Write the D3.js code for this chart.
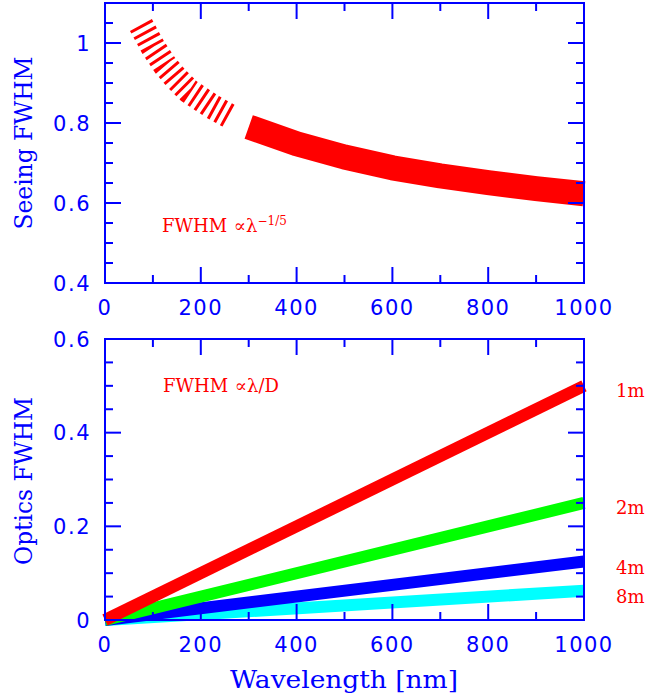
<!DOCTYPE html>
<html>
<head>
<meta charset="utf-8">
<script src="https://cdn.jsdelivr.net/npm/d3@7"></script>
<style>
  body { margin: 0; background: #fff; }
  svg { display: block; }
</style>
</head>
<body>
<div id="chart"></div>
<script>
// seeing FWHM (wavelength nm, FWHM)
var seeingHatched = [[75, 1.045], [100, 0.99], [125, 0.945], [150, 0.91], [175, 0.88], [200, 0.86], [225, 0.84], [263, 0.815]];
var seeingSolid = [[300, 0.79], [400, 0.748], [500, 0.715], [600, 0.688], [700, 0.668], [800, 0.651], [900, 0.636], [1000, 0.623]];

// optics FWHM lines, drawn in this order (last on top)
var optics = [
  {name: "8m", color: "#00ffff", values: [[0, 0], [1000, 0.0625]]},
  {name: "4m", color: "#0000ff", values: [[0, 0], [1000, 0.125]]},
  {name: "2m", color: "#00ff00", values: [[0, 0], [1000, 0.25]]},
  {name: "1m", color: "#ff0000", values: [[0, 0], [1000, 0.5]]}
];
var labelPos = {"1m": 0.49, "2m": 0.24, "4m": 0.11, "8m": 0.05};

var xTicks = [0, 200, 400, 600, 800, 1000];
var topYTicks = [0.4, 0.6, 0.8, 1.0];
var botYTicks = [0, 0.2, 0.4, 0.6];

var W = 649, H = 696;
var blue = "#0000ff", red = "#ff0000";

var svg = d3.select("#chart").append("svg")
  .attr("width", W).attr("height", H);

var x = d3.scaleLinear().domain([0, 1000]).range([105, 584]);
var yTop = d3.scaleLinear().domain([0.4, 1.1]).range([283, 3]);
var yBot = d3.scaleLinear().domain([0, 0.6]).range([620, 339]);

function frame(y, yMajor, yMinorStep, fmt) {
  var g = svg.append("g");
  var y0 = y.range()[0], y1 = y.range()[1];
  var x0 = x.range()[0], x1 = x.range()[1];
  var d = y.domain();

  // minor + major x ticks, top and bottom
  d3.range(0, 1001, 100).forEach(function(v) {
    var len = (v % 200 === 0) ? 16 : 8;
    g.append("line").attr("x1", x(v)).attr("x2", x(v)).attr("y1", y0).attr("y2", y0 - len);
    g.append("line").attr("x1", x(v)).attr("x2", x(v)).attr("y1", y1).attr("y2", y1 + len);
  });
  // y ticks left and right
  var n = Math.round((d[1] - d[0]) / yMinorStep);
  for (var i = 0; i <= n; i++) {
    var v = d[0] + i * yMinorStep;
    var major = yMajor.some(function(t) { return Math.abs(t - v) < 1e-6; });
    var len = major ? 16 : 8;
    g.append("line").attr("x1", x0).attr("x2", x0 + len).attr("y1", y(v)).attr("y2", y(v));
    g.append("line").attr("x1", x1).attr("x2", x1 - len).attr("y1", y(v)).attr("y2", y(v));
  }
  g.append("rect").attr("x", x0).attr("y", y1)
    .attr("width", x1 - x0).attr("height", y0 - y1)
    .attr("fill", "none");
  g.selectAll("line, rect").attr("stroke", blue).attr("stroke-width", 2);

  g.selectAll(".xl").data(xTicks).enter().append("text")
    .attr("x", function(v) { return x(v); })
    .attr("y", y0 + 32)
    .attr("text-anchor", "middle")
    .text(function(v) { return v; });
  g.selectAll(".yl").data(yMajor).enter().append("text")
    .attr("x", x0 - 14)
    .attr("y", function(v) { return y(v) + 7.5; })
    .attr("text-anchor", "end")
    .text(fmt);
  g.selectAll("text")
    .attr("fill", blue)
    .style("font-family", "DejaVu Sans")
    .style("font-size", "21px")
    .style("letter-spacing", "1.5px");
}

function fmtY(v) { return v === 1 ? "1" : (v === 0 ? "0" : d3.format(".1f")(v)); }

// ----- top panel -----
var lineTop = d3.line().x(function(d) { return x(d[0]); }).y(function(d) { return yTop(d[1]); });

svg.append("path").datum(seeingHatched)
  .attr("d", lineTop)
  .attr("fill", "none")
  .attr("stroke", red)
  .attr("stroke-width", 25)
  .attr("stroke-dasharray", "3,4.4");

svg.append("path").datum(seeingSolid)
  .attr("d", lineTop)
  .attr("fill", "none")
  .attr("stroke", red)
  .attr("stroke-width", 25)
  .attr("stroke-linejoin", "round");

frame(yTop, topYTicks, 0.05, fmtY);

var ann1 = svg.append("text")
  .attr("x", 162).attr("y", 232)
  .attr("fill", red)
  .style("font-family", "DejaVu Serif")
  .style("font-size", "18px");
ann1.append("tspan").text("FWHM ");
ann1.append("tspan").attr("dx", 1).text("\u221D\u03BB");
ann1.append("tspan").attr("dy", -7).style("font-size", "12px").text("\u22121/5");

svg.append("text")
  .attr("transform", "translate(32,143) rotate(-90)")
  .attr("text-anchor", "middle")
  .attr("fill", blue)
  .attr("textLength", 173).attr("lengthAdjust", "spacingAndGlyphs")
  .style("font-family", "DejaVu Serif")
  .style("font-size", "24px")
  .text("Seeing FWHM");

// ----- bottom panel -----
var lineBot = d3.line().x(function(d) { return x(d[0]); }).y(function(d) { return yBot(d[1]); });

svg.append("g").selectAll("path")
  .data(optics)
  .enter().append("path")
  .attr("d", function(s) { return lineBot(s.values); })
  .attr("fill", "none")
  .attr("stroke", function(s) { return s.color; })
  .attr("stroke-width", 12);

frame(yBot, botYTicks, 0.05, fmtY);

svg.append("g").selectAll("text")
  .data(optics)
  .enter().append("text")
  .attr("x", 616)
  .attr("y", function(s) { return yBot(labelPos[s.name]) + 6; })
  .attr("fill", red)
  .style("font-family", "DejaVu Serif")
  .style("font-size", "18px")
  .text(function(s) { return s.name; });

var ann2 = svg.append("text")
  .attr("x", 163).attr("y", 392)
  .attr("fill", red)
  .style("font-family", "DejaVu Serif")
  .style("font-size", "18px");
ann2.append("tspan").text("FWHM ");
ann2.append("tspan").attr("dx", 1).text("\u221D\u03BB/D");

svg.append("text")
  .attr("transform", "translate(32,481) rotate(-90)")
  .attr("text-anchor", "middle")
  .attr("fill", blue)
  .attr("textLength", 168).attr("lengthAdjust", "spacingAndGlyphs")
  .style("font-family", "DejaVu Serif")
  .style("font-size", "24px")
  .text("Optics FWHM");

svg.append("text")
  .attr("x", 344).attr("y", 688)
  .attr("text-anchor", "middle")
  .attr("fill", blue)
  .attr("textLength", 228).attr("lengthAdjust", "spacingAndGlyphs")
  .style("font-family", "DejaVu Serif")
  .style("font-size", "24px")
  .text("Wavelength [nm]");
</script>
</body>
</html>
